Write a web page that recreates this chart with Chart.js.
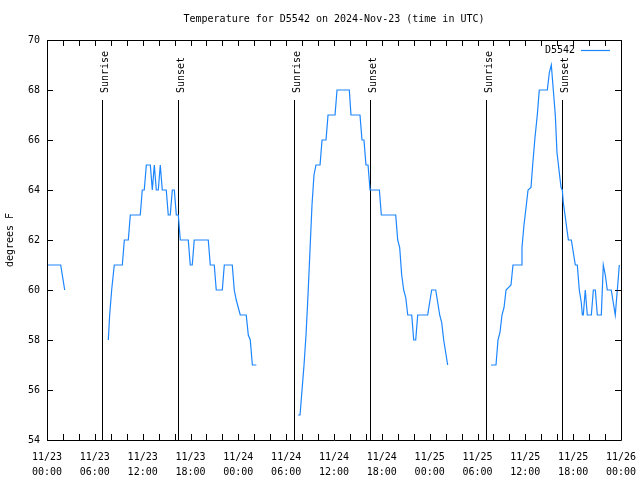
<!DOCTYPE html>
<html lang="en">
<head>
<meta charset="UTF-8">
<title>Temperature for D5542</title>
<script src="https://cdn.jsdelivr.net/npm/chart.js@4"></script>
<style>
  body { margin: 0; background: #fff; }
</style>
</head>
<body>
<canvas id="tempChart" width="640" height="480"></canvas>
<script>
// hours after 11/23 00:00 UTC and temperature in degrees F, one pair of arrays per unbroken run
const hours1 = [0, 1.72, 1.97, 2.22];
const temps1 = [61, 61, 60.5, 60];

const hours2 = [7.69, 7.86, 8.11, 8.44, 9.45, 9.70, 10.2, 10.45, 11.70, 11.95, 12.2, 12.46, 12.96, 13.21,
    13.46, 13.71, 13.96, 14.21, 14.46, 14.96, 15.21, 15.46, 15.72, 15.97, 16.22, 16.47, 16.72, 17.72,
    17.97, 18.22, 18.47, 20.23, 20.48, 20.98, 21.23, 21.99, 22.24, 23.24, 23.49, 23.74, 23.99, 24.24,
    24.99, 25.25, 25.5, 25.76, 26.26];
const temps2 = [58, 59, 60, 61, 61, 62, 62, 63, 63, 64, 64, 65, 65, 64,
    65, 64, 64, 65, 64, 64, 63, 63, 64, 64, 63, 63, 62, 62,
    61, 61, 62, 62, 61, 61, 60, 60, 61, 61, 60, 59.6, 59.3, 59,
    59, 58.2, 58, 57, 57];

const hours3 = [31.49, 31.74, 31.99, 32.24, 32.49, 32.74, 32.99, 33.24, 33.49, 33.74, 34.25, 34.5, 35.0,
    35.25, 36.13, 36.38, 37.92, 38.13, 39.26, 39.51, 39.76, 40.01, 40.27, 40.52, 41.69, 41.94, 43.74,
    43.99, 44.24, 44.49, 44.74, 45.0, 45.25, 45.75, 46.0, 46.25, 46.5, 47.75, 48.0, 48.25, 48.76,
    49.01, 49.26, 49.51, 49.76, 50.01, 50.26];
const temps3 = [55, 55, 56, 57, 58.2, 59.8, 61.6, 63.4, 64.6, 65, 65, 66, 66,
    67, 67, 68, 68, 67, 67, 66, 66, 65, 65, 64, 64, 63, 63,
    62, 61.7, 60.6, 60, 59.7, 59, 59, 58, 58, 59, 59, 59.5, 60, 60,
    59.5, 59, 58.7, 58, 57.5, 57];

const hours4 = [55.7, 56.32, 56.57, 56.82, 57.07, 57.33, 57.58, 58.2, 58.45, 59.46, 59.58, 59.83, 60.09,
    60.34, 60.71, 60.92, 61.21, 61.5, 61.75, 62.76, 63.01, 63.26, 63.51, 63.76, 63.97, 64.26, 64.48,
    64.64, 64.76, 65.02, 65.27, 65.4, 65.77, 66.02, 66.27, 66.52, 66.77, 67.02, 67.15, 67.27, 67.52,
    67.77, 68.28, 68.53, 68.78, 69.03, 69.53, 69.78, 70.03, 70.28, 70.78, 71.03, 71.28, 71.54, 71.79];
const temps4 = [57, 57, 58, 58.3, 59, 59.3, 60, 60.2, 61, 61, 61.7, 62.6, 63.3,
    64, 64.1, 65, 66.1, 67, 68, 68, 68.7, 69, 68, 67, 65.5, 64.7, 64.1,
    64, 63.5, 62.9, 62.3, 62, 62, 61.5, 61, 61, 60, 59.5, 59, 59, 60,
    59, 59, 60, 60, 59, 59, 61, 60.6, 60, 60, 59.5, 59, 60, 61];

const sunrise = [6.94, 31.02, 55.11];
const sunset = [16.47, 40.56, 64.64];

const tickDates = ['11/23', '11/23', '11/23', '11/23', '11/24', '11/24', '11/24', '11/24',
    '11/25', '11/25', '11/25', '11/25', '11/26'];
const tickTimes = ['00:00', '06:00', '12:00', '18:00', '00:00', '06:00', '12:00', '18:00',
    '00:00', '06:00', '12:00', '18:00', '00:00'];

const lineColor = '#1c86ff';
const fontFamily = '"DejaVu Sans Mono", monospace';

// join the runs, with a null between them so the line breaks
const points = [];
[[hours1, temps1], [hours2, temps2], [hours3, temps3], [hours4, temps4]].forEach(function (seg, i) {
    if (i > 0) points.push({x: seg[0][0] - 0.5, y: null});
    for (let k = 0; k < seg[0].length; k++) points.push({x: seg[0][k], y: seg[1][k]});
});

// frame, inward ticks, sun lines and key
const decorations = {
    id: 'decorations',
    beforeDatasetsDraw(chart) {
        const {ctx, chartArea: a, scales: {x}} = chart;
        const top = a.bottom - 0.85 * (a.bottom - a.top);
        ctx.save();
        ctx.strokeStyle = '#000';
        ctx.fillStyle = '#000';
        ctx.lineWidth = 1;
        ctx.font = '10px ' + fontFamily;
        const mark = function (h, label) {
            const px = Math.round(x.getPixelForValue(h)) + 0.5;
            ctx.beginPath();
            ctx.moveTo(px, a.bottom);
            ctx.lineTo(px, top);
            ctx.stroke();
            ctx.save();
            ctx.translate(px + 5, top - 7);
            ctx.rotate(-Math.PI / 2);
            ctx.textAlign = 'left';
            ctx.textBaseline = 'alphabetic';
            ctx.fillText(label, 0, 0);
            ctx.restore();
        };
        sunrise.forEach(h => mark(h, 'Sunrise'));
        sunset.forEach(h => mark(h, 'Sunset'));
        ctx.restore();
    },
    afterDraw(chart) {
        const {ctx, chartArea: a, scales: {x, y}} = chart;
        ctx.save();
        ctx.strokeStyle = '#000';
        ctx.lineWidth = 1;
        ctx.beginPath();
        ctx.rect(Math.round(a.left) + 0.5, Math.round(a.top) + 0.5,
            Math.round(a.right - a.left), Math.round(a.bottom - a.top));
        for (let h = 0; h <= 72; h += 2) {
            const px = Math.round(x.getPixelForValue(h)) + 0.5;
            ctx.moveTo(px, a.bottom); ctx.lineTo(px, a.bottom - 6);
            ctx.moveTo(px, a.top); ctx.lineTo(px, a.top + 6);
        }
        for (let v = 54; v <= 70; v += 2) {
            const py = Math.round(y.getPixelForValue(v)) + 0.5;
            ctx.moveTo(a.left, py); ctx.lineTo(a.left + 6, py);
            ctx.moveTo(a.right, py); ctx.lineTo(a.right - 6, py);
        }
        ctx.stroke();

        // key
        ctx.fillStyle = '#000';
        ctx.font = '10px ' + fontFamily;
        ctx.textAlign = 'right';
        ctx.textBaseline = 'middle';
        ctx.fillText(chart.data.datasets[0].label, a.right - 46, a.top + 10);
        ctx.strokeStyle = lineColor;
        ctx.lineWidth = 1.2;
        ctx.beginPath();
        ctx.moveTo(a.right - 40, a.top + 10.5);
        ctx.lineTo(a.right - 11, a.top + 10.5);
        ctx.stroke();
        ctx.restore();
    }
};

Chart.defaults.font.family = fontFamily;
Chart.defaults.font.size = 10;
Chart.defaults.color = '#000';

new Chart(document.getElementById('tempChart'), {
    type: 'line',
    data: {
        datasets: [{
            label: 'D5542',
            data: points,
            borderColor: lineColor,
            borderWidth: 1.2,
            pointRadius: 0,
            tension: 0,
            spanGaps: false
        }]
    },
    options: {
        responsive: false,
        animation: false,
        layout: {padding: {top: 0, right: 19, bottom: 0, left: 0}},
        plugins: {
            legend: {display: false},
            tooltip: {enabled: false},
            title: {
                display: true,
                fullSize: false,
                text: 'Temperature for D5542 on 2024-Nov-23 (time in UTC)',
                font: {size: 10, weight: 'normal', lineHeight: 1.2},
                padding: {top: 13, bottom: 15},
                color: '#000'
            }
        },
        scales: {
            x: {
                type: 'linear',
                min: 0,
                max: 72,
                grid: {display: false, drawTicks: false},
                border: {display: false},
                ticks: {
                    stepSize: 6,
                    autoSkip: false,
                    maxRotation: 0,
                    padding: 10,
                    font: {size: 10, lineHeight: 1.5},
                    callback: (v, i) => [tickDates[i], tickTimes[i]]
                },
                afterFit: s => { s.height = 40; s.paddingLeft = 0; s.paddingRight = 0; }
            },
            y: {
                min: 54,
                max: 70,
                grid: {display: false, drawTicks: false},
                border: {display: false},
                ticks: {stepSize: 2, padding: 7},
                title: {display: true, text: 'degrees F', padding: {top: 4, bottom: 0}},
                afterFit: s => { s.width = 47; s.paddingTop = 0; s.paddingBottom = 0; }
            }
        }
    },
    plugins: [decorations]
});
</script>
</body>
</html>
